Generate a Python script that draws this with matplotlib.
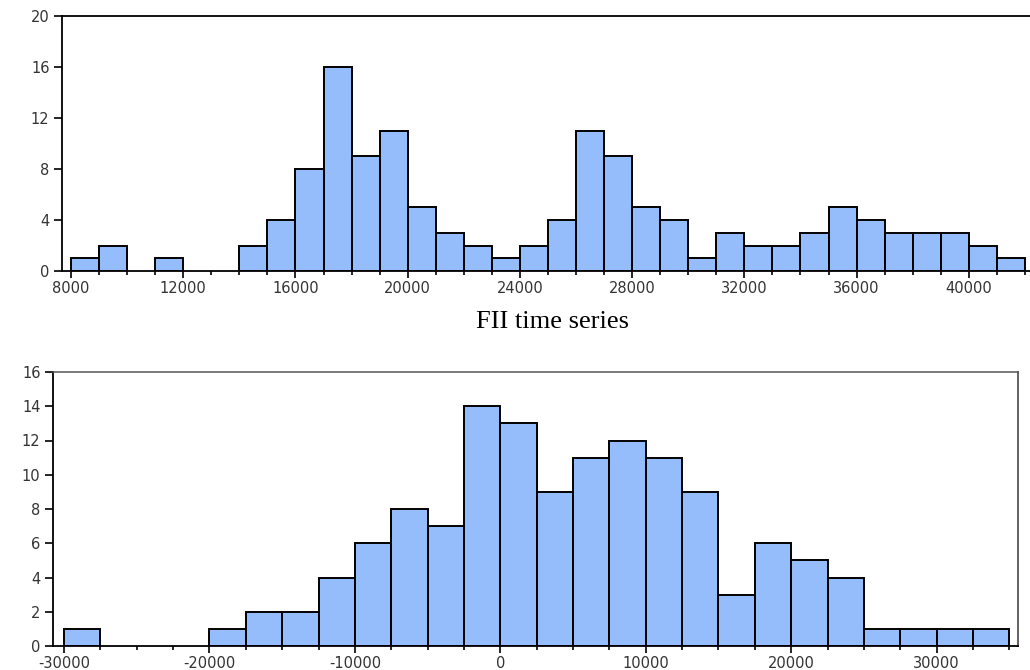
import numpy as np
import matplotlib
matplotlib.use('Agg')
import matplotlib.pyplot as plt

plt.rcParams['axes.unicode_minus'] = False

# top histogram (FII levels), bins of 1000 starting at 8000
fii_start = 8000
fii_width = 1000
fii_counts = [1, 2, 0, 1, 0, 0, 2, 4, 8, 16, 9, 11, 5, 3, 2, 1, 2, 4, 11, 9,
              5, 4, 1, 3, 2, 2, 3, 5, 4, 3, 3, 3, 2, 1]
fii_xticks = [8000, 12000, 16000, 20000, 24000, 28000, 32000, 36000, 40000]
fii_yticks = [0, 4, 8, 12, 16, 20]

# bottom histogram (changes), bins of 2500 starting at -30000
chg_start = -30000
chg_width = 2500
chg_counts = [1, 0, 0, 0, 1, 2, 2, 4, 6, 8, 7, 14, 13, 9, 11, 12, 11, 9,
              3, 6, 5, 4, 1, 1, 1, 1]
chg_xticks = [-30000, -20000, -10000, 0, 10000, 20000, 30000]
chg_yticks = [0, 2, 4, 6, 8, 10, 12, 14, 16]

bar_color = '#95bdfc'
lab_color = '#333333'

fig = plt.figure(figsize=(10.3, 6.7), dpi=100)


def draw_hist(ax, start, width, counts):
    lefts = start + width * np.arange(len(counts))
    counts = np.array(counts)
    keep = counts > 0
    ax.bar(lefts[keep], counts[keep], width=width, align='edge',
           color=bar_color, edgecolor='black', linewidth=1.4, zorder=2)
    edges = start + width * np.arange(len(counts) + 1)
    ax.set_xticks(edges, minor=True)


def style(ax):
    ax.tick_params(axis='both', which='major', direction='out', length=6,
                   width=1.2, colors='black', labelcolor=lab_color, pad=3,
                   labelsize=10.5)
    ax.tick_params(axis='x', which='minor', direction='out', length=3,
                   width=1.2)
    ax.tick_params(axis='x', which='major', length=5, pad=2)
    ax.tick_params(axis='y', which='minor', left=False)


# top panel
ax1 = fig.add_axes([62 / 1030, 1 - 271 / 670, (1030 - 62) / 1030, 255 / 670])
draw_hist(ax1, fii_start, fii_width, fii_counts)
ax1.set_xlim(7680, 42180)
ax1.set_ylim(0, 20)
ax1.set_xticks(fii_xticks)
ax1.set_yticks(fii_yticks)
ax1.spines['right'].set_visible(False)
for s in ['left', 'bottom', 'top']:
    ax1.spines[s].set_linewidth(1.3)
    ax1.spines[s].set_color('black')
style(ax1)

fig.text(553 / 1030, 1 - 322 / 670, 'FII time series',
         family='Liberation Serif', size=19, ha='center', va='center')

# bottom panel
ax2 = fig.add_axes([53 / 1030, 1 - 646 / 670, (1018 - 53) / 1030, 274 / 670])
draw_hist(ax2, chg_start, chg_width, chg_counts)
ax2.set_xlim(-30760, 35600)
ax2.set_ylim(0, 16)
ax2.set_xticks(chg_xticks)
ax2.set_yticks(chg_yticks)
ax2.spines['left'].set_linewidth(1.3)
ax2.spines['bottom'].set_linewidth(1.3)
ax2.spines['top'].set_color('#555555')
ax2.spines['right'].set_color('#555555')
ax2.spines['top'].set_linewidth(1.1)
ax2.spines['right'].set_linewidth(1.3)
style(ax2)

fig.savefig('out.png', dpi=100)
